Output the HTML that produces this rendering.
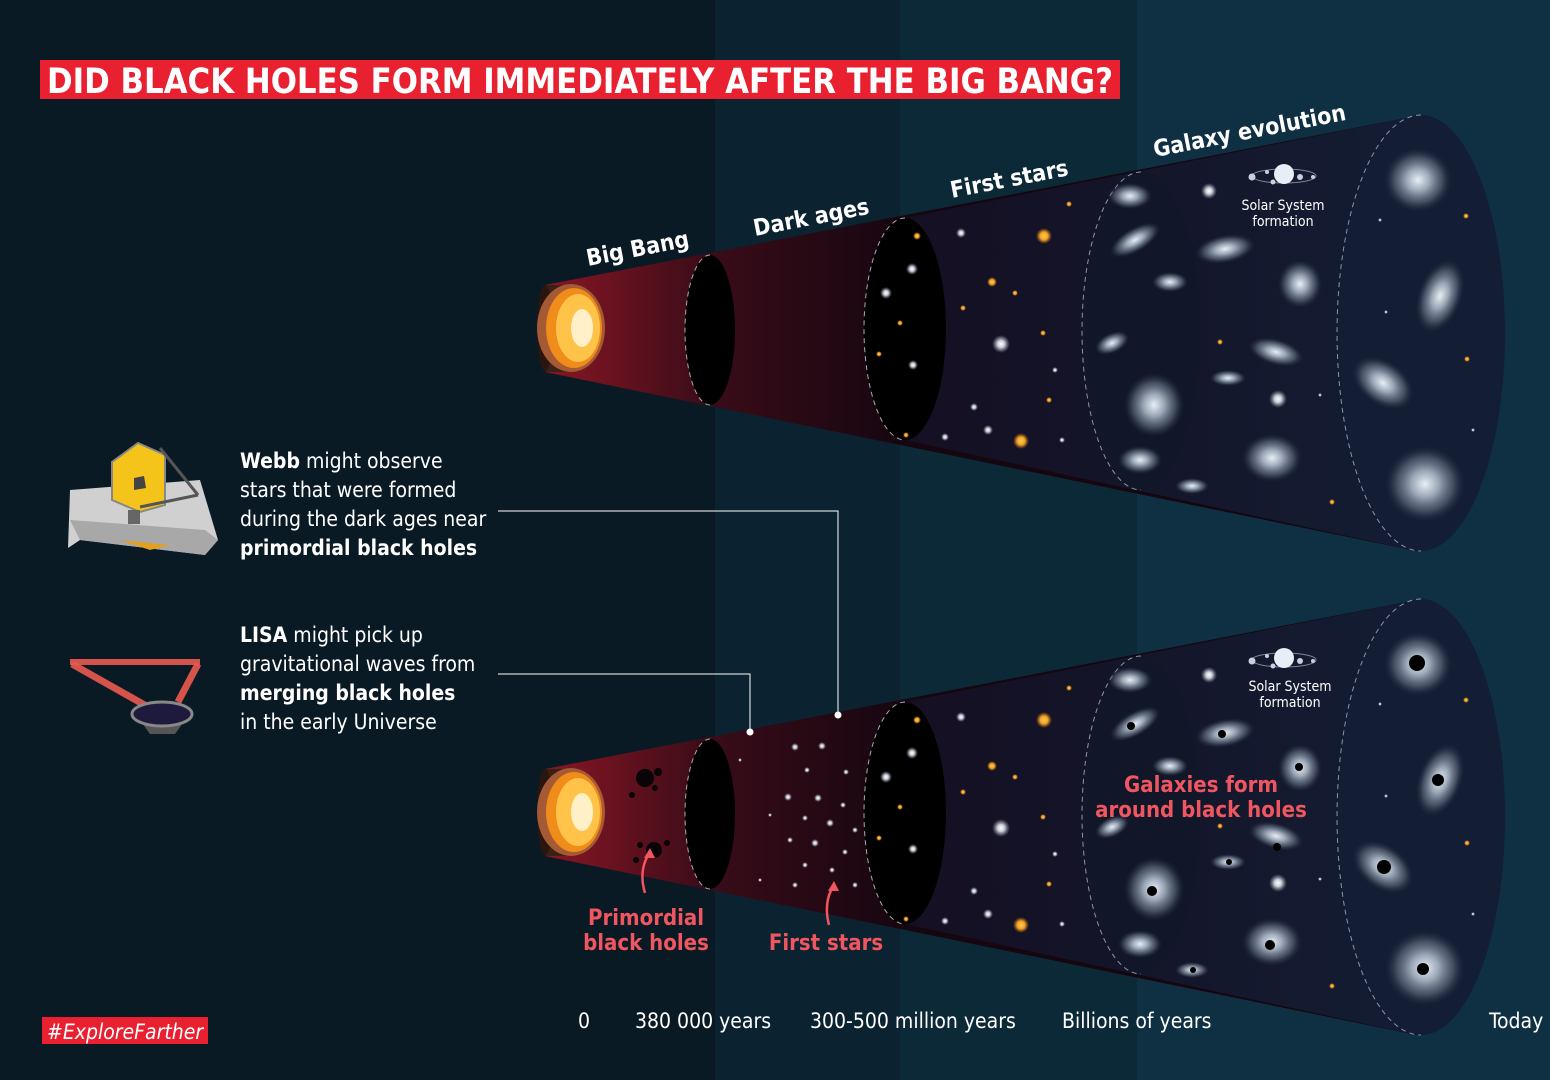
<!DOCTYPE html>
<html><head><meta charset="utf-8"><style>
html,body{margin:0;padding:0;background:#0a1a24;}
svg{display:block}
text{font-family:"DejaVu Sans Condensed","Liberation Sans",sans-serif;}
</style></head><body>
<svg width="1550" height="1080" viewBox="0 0 1550 1080" xmlns="http://www.w3.org/2000/svg">
<defs>
<linearGradient id="redg" x1="545" y1="0" x2="905" y2="0" gradientUnits="userSpaceOnUse">
<stop offset="0" stop-color="#8a1624"/><stop offset="0.45" stop-color="#3a0c18"/><stop offset="1" stop-color="#150610"/></linearGradient>
<linearGradient id="navyg" x1="905" y1="0" x2="1420" y2="0" gradientUnits="userSpaceOnUse">
<stop offset="0" stop-color="#150f22"/><stop offset="1" stop-color="#131d33"/></linearGradient>
<radialGradient id="gal"><stop offset="0" stop-color="#e8eef5"/><stop offset="0.35" stop-color="#9aa6b6"/><stop offset="0.7" stop-color="#5b6678" stop-opacity="0.7"/><stop offset="1" stop-color="#2a3344" stop-opacity="0"/></radialGradient>
<radialGradient id="glow"><stop offset="0" stop-color="#ffffff"/><stop offset="0.4" stop-color="#c8ccd4"/><stop offset="1" stop-color="#8890a0" stop-opacity="0"/></radialGradient>
<radialGradient id="orng"><stop offset="0" stop-color="#ffd060"/><stop offset="0.5" stop-color="#f0a020"/><stop offset="1" stop-color="#c07010" stop-opacity="0"/></radialGradient>
<g id="cone">
  <polygon points="545,285 1421,115 1421,552 545,372" fill="url(#redg)"/>
  <polygon points="905,218 1421,115 1421,552 905,440" fill="url(#navyg)"/>
  <ellipse cx="1421" cy="333" rx="84" ry="218" fill="#131d33"/>
  <path d="M1421,115 A84,218 0 0 0 1421,551" fill="none" stroke="#8a95a8" stroke-width="1" stroke-dasharray="5,4"/>
  <ellipse cx="1141" cy="331" rx="59" ry="159" fill="#111729"/>
  <path d="M1141,172 A59,159 0 0 0 1141,490" fill="none" stroke="#8a95a8" stroke-width="1" stroke-dasharray="5,4"/>
  <ellipse cx="905" cy="329" rx="41" ry="111" fill="#000"/>
  <path d="M905,218 A41,111 0 0 0 905,440" fill="none" stroke="#aaa" stroke-width="1" stroke-dasharray="5,4"/>
  <ellipse cx="710" cy="330" rx="25" ry="75" fill="#000"/>
  <path d="M710,255 A25,75 0 0 0 710,405" fill="none" stroke="#aaa" stroke-width="1" stroke-dasharray="5,4"/>
  <!-- big bang disk -->
  <rect x="545" y="285" width="26" height="87" fill="#3a2015"/>
  <ellipse cx="545" cy="328" rx="8" ry="43" fill="#2a160e"/>
  <ellipse cx="571" cy="328" rx="34" ry="44" fill="#a35a35"/>
  <ellipse cx="574" cy="328" rx="28" ry="40" fill="#f08c1a"/>
  <ellipse cx="578" cy="328" rx="22" ry="34" fill="#ffc34a"/>
  <ellipse cx="582" cy="328" rx="11" ry="19" fill="#fff0c8"/>
  <!-- stars in first stars region -->
  <g fill="url(#glow)">
    <circle cx="961" cy="233" r="5"/><circle cx="912" cy="269" r="6"/><circle cx="886" cy="293" r="6"/>
    <circle cx="1001" cy="344" r="9"/><circle cx="913" cy="365" r="5"/><circle cx="988" cy="430" r="5"/>
    <circle cx="974" cy="407" r="4"/><circle cx="945" cy="437" r="4"/><circle cx="1055" cy="370" r="3"/>
    <circle cx="1209" cy="191" r="8"/><circle cx="1278" cy="399" r="9"/><circle cx="1062" cy="440" r="3"/>
    <circle cx="1380" cy="220" r="2"/><circle cx="1386" cy="312" r="2"/><circle cx="1473" cy="430" r="2"/><circle cx="1320" cy="395" r="2"/>
  </g>
  <g fill="url(#orng)">
    <circle cx="1044" cy="236" r="8"/><circle cx="1021" cy="441" r="8"/><circle cx="992" cy="282" r="5"/>
    <circle cx="917" cy="236" r="4"/><circle cx="900" cy="323" r="3"/><circle cx="879" cy="354" r="3"/>
    <circle cx="1015" cy="293" r="3"/><circle cx="963" cy="308" r="3"/><circle cx="1043" cy="333" r="3"/>
    <circle cx="1049" cy="400" r="3"/><circle cx="906" cy="435" r="3"/><circle cx="1069" cy="204" r="3"/>
    <circle cx="1466" cy="216" r="3"/><circle cx="1467" cy="359" r="3"/><circle cx="1332" cy="502" r="3"/><circle cx="1220" cy="342" r="3"/>
  </g>
  <!-- galaxies -->
  <g fill="url(#gal)">
    <ellipse cx="1418" cy="180" rx="34" ry="32"/><ellipse cx="1440" cy="296" rx="22" ry="38" transform="rotate(20 1440 296)"/>
    <ellipse cx="1383" cy="383" rx="34" ry="22" transform="rotate(35 1383 383)"/><ellipse cx="1425" cy="484" rx="40" ry="38"/>
    <ellipse cx="1135" cy="240" rx="28" ry="12" transform="rotate(-30 1135 240)"/><ellipse cx="1225" cy="249" rx="30" ry="14" transform="rotate(-10 1225 249)"/>
    <ellipse cx="1300" cy="284" rx="22" ry="24"/><ellipse cx="1276" cy="352" rx="28" ry="13" transform="rotate(15 1276 352)"/>
    <ellipse cx="1272" cy="458" rx="30" ry="24"/><ellipse cx="1154" cy="405" rx="30" ry="32"/>
    <ellipse cx="1140" cy="460" rx="22" ry="14"/><ellipse cx="1130" cy="196" rx="22" ry="13"/>
    <ellipse cx="1112" cy="343" rx="18" ry="10" transform="rotate(-25 1112 343)"/><ellipse cx="1170" cy="282" rx="18" ry="10"/>
    <ellipse cx="1228" cy="378" rx="18" ry="8"/><ellipse cx="1192" cy="486" rx="17" ry="8"/>
  </g>
  <!-- solar system -->
  <ellipse cx="1284" cy="176" rx="32" ry="7" fill="none" stroke="#7a8798" stroke-width="1"/>
  <circle cx="1284" cy="174" r="10" fill="#e8eef8"/>
  <circle cx="1252" cy="177" r="3.5" fill="#c8d0dc"/><circle cx="1267" cy="172" r="2" fill="#c8d0dc"/>
  <circle cx="1273" cy="182" r="2.5" fill="#c8d0dc"/><circle cx="1300" cy="177" r="3" fill="#c8d0dc"/><circle cx="1313" cy="177" r="2" fill="#c8d0dc"/>
</g>
</defs>

<!-- background bands -->
<rect width="1550" height="1080" fill="#0a1a24"/>
<rect x="715" width="185" height="1080" fill="#0b2230"/>
<rect x="900" width="237" height="1080" fill="#0c2938"/>
<rect x="1137" width="413" height="1080" fill="#0e3042"/>

<use href="#cone"/>
<use href="#cone" transform="translate(0,484)"/>

<!-- bottom extras: black holes in galaxies -->
<g fill="#000">
<circle cx="1417" cy="663" r="8"/><circle cx="1438" cy="780" r="6"/><circle cx="1384" cy="867" r="7"/><circle cx="1423" cy="969" r="6"/>
<circle cx="1131" cy="726" r="4"/><circle cx="1222" cy="734" r="4"/><circle cx="1299" cy="767" r="4"/><circle cx="1277" cy="847" r="4"/>
<circle cx="1270" cy="945" r="5"/><circle cx="1152" cy="891" r="5"/><circle cx="1229" cy="862" r="3"/><circle cx="1193" cy="970" r="3"/>
</g>
<!-- cover first stars in bottom solar area label -->
<!-- primordial black holes -->
<g fill="#0a0406">
<circle cx="645" cy="778" r="9"/><circle cx="658" cy="772" r="4"/><circle cx="655" cy="788" r="3"/><circle cx="632" cy="795" r="3"/>
<circle cx="654" cy="850" r="8"/><circle cx="640" cy="845" r="3"/><circle cx="636" cy="860" r="3"/><circle cx="667" cy="843" r="3"/>
</g>
<!-- bottom dark ages stars -->
<g fill="url(#glow)">
<circle cx="795" cy="747" r="4"/><circle cx="822" cy="746" r="4"/><circle cx="807" cy="770" r="3"/><circle cx="846" cy="772" r="3"/>
<circle cx="788" cy="797" r="4"/><circle cx="818" cy="798" r="4"/><circle cx="843" cy="805" r="3"/><circle cx="805" cy="818" r="3"/>
<circle cx="830" cy="823" r="4"/><circle cx="855" cy="830" r="3"/><circle cx="790" cy="840" r="3"/><circle cx="815" cy="843" r="4"/>
<circle cx="845" cy="852" r="3"/><circle cx="805" cy="865" r="3"/><circle cx="832" cy="870" r="3"/><circle cx="795" cy="885" r="3"/>
<circle cx="855" cy="885" r="3"/><circle cx="770" cy="815" r="2"/><circle cx="740" cy="760" r="2"/><circle cx="760" cy="880" r="2"/>
</g>

<!-- stage labels -->
<g fill="#fff" font-weight="bold" font-size="23">
<text x="588" y="266" transform="rotate(-11 588 266)">Big Bang</text>
<text x="755" y="236" transform="rotate(-11 755 236)">Dark ages</text>
<text x="952" y="198" transform="rotate(-11 952 198)">First stars</text>
<text x="1155" y="157" transform="rotate(-11 1155 157)">Galaxy evolution</text>
</g>
<g fill="#fff" font-size="14" text-anchor="middle">
<text x="1283" y="210">Solar System</text><text x="1283" y="226">formation</text>
<text x="1290" y="691">Solar System</text><text x="1290" y="707">formation</text>
</g>

<!-- title -->
<rect x="40" y="60" width="1080" height="39" fill="#e8202f"/>
<text x="47" y="93" fill="#fff" font-weight="bold" font-size="35" textLength="1066" lengthAdjust="spacingAndGlyphs">DID BLACK HOLES FORM IMMEDIATELY AFTER THE BIG BANG?</text>

<!-- Webb icon -->
<g>
<polygon points="70,490 200,480 218,540 205,555 80,540 68,548" fill="#d0d0d0"/>
<polygon points="70,520 205,530 218,540 205,555 80,540" fill="#a8a8a8"/>
<polygon points="120,540 170,545 150,550" fill="#e0a020"/>
<polygon points="138,443 165,455 165,505 140,512 112,500 112,462" fill="#f5c41a" stroke="#888" stroke-width="2"/>
<polygon points="134,478 144,476 146,488 134,490" fill="#444"/>
<line x1="160" y1="448" x2="198" y2="495" stroke="#555" stroke-width="3"/>
<line x1="198" y1="495" x2="140" y2="507" stroke="#555" stroke-width="3"/>
<rect x="128" y="510" width="12" height="14" fill="#666"/>
</g>
<!-- LISA icon -->
<g>
<line x1="70" y1="662" x2="200" y2="662" stroke="#ea5a50" stroke-width="6" opacity="0.9"/>
<line x1="72" y1="664" x2="150" y2="708" stroke="#ea5a50" stroke-width="7" opacity="0.9"/>
<line x1="198" y1="664" x2="178" y2="702" stroke="#ea5a50" stroke-width="7" opacity="0.9"/>
<polygon points="140,720 185,720 175,734 150,734" fill="#555"/>
<ellipse cx="162" cy="714" rx="30" ry="12" fill="#1e1a3e" stroke="#888" stroke-width="3"/>
</g>

<!-- text blocks -->
<g fill="#fff" font-size="21">
<text x="240" y="468"><tspan font-weight="bold">Webb</tspan> might observe</text>
<text x="240" y="497">stars that were formed</text>
<text x="240" y="526">during the dark ages near</text>
<text x="240" y="555" font-weight="bold">primordial black holes</text>
<text x="240" y="642"><tspan font-weight="bold">LISA</tspan> might pick up</text>
<text x="240" y="671">gravitational waves from</text>
<text x="240" y="700" font-weight="bold">merging black holes</text>
<text x="240" y="729">in the early Universe</text>
</g>

<!-- connectors -->
<polyline points="498,511 838,511 838,715" fill="none" stroke="#fff" stroke-width="1"/>
<polyline points="498,674 750,674 750,732" fill="none" stroke="#fff" stroke-width="1"/>
<circle cx="838" cy="715" r="3.5" fill="#fff"/><circle cx="750" cy="732" r="3.5" fill="#fff"/>

<!-- red labels -->
<g fill="#ef5660" font-weight="bold" font-size="22" text-anchor="middle">
<text x="646" y="925">Primordial</text><text x="646" y="950">black holes</text>
<text x="826" y="950">First stars</text>
<text x="1201" y="792">Galaxies form</text><text x="1201" y="817">around black holes</text>
</g>
<g fill="none" stroke="#ef5660" stroke-width="2.5">
<path d="M645,893 Q638,870 650,852"/><path d="M829,925 Q823,902 834,885"/>
</g>
<polygon points="650,848 644,858 655,858" fill="#ef5660"/>
<polygon points="834,881 828,891 839,891" fill="#ef5660"/>

<!-- timeline -->
<g fill="#fff" font-size="21">
<text x="578" y="1028">0</text>
<text x="635" y="1028">380 000 years</text>
<text x="810" y="1028">300-500 million years</text>
<text x="1062" y="1028">Billions of years</text>
<text x="1489" y="1028">Today</text>
</g>

<rect x="42" y="1017" width="166" height="27" fill="#e8202f"/>
<text x="47" y="1039" fill="#fff" font-size="21" font-style="italic">#ExploreFarther</text>
</svg>
</body></html>
